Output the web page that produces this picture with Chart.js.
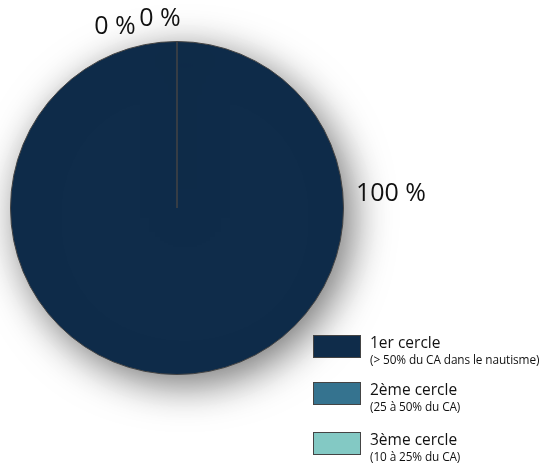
<!DOCTYPE html>
<html>
<head>
<meta charset="utf-8">
<script src="https://cdn.jsdelivr.net/npm/chart.js@4"></script>
<style>
  body { margin: 0; background: #fff; font-family: "Open Sans", sans-serif; }
  #wrap { position: relative; width: 548px; height: 467px; overflow: hidden; }
  .leg { position: absolute; left: 313px; }
  .leg .box { position: absolute; left: 0; top: 0; width: 46px; height: 21px; border: 1px solid #444; }
  .leg .t1 { position: absolute; left: 57px; top: -4px; font-size: 15.5px; color: #111; white-space: nowrap; }
  .leg .t2 { position: absolute; left: 57px; top: 16px; font-size: 11.8px; color: #111; white-space: nowrap; letter-spacing: -0.1px; }
</style>
</head>
<body>
<div id="wrap">
  <canvas id="pieChart" width="548" height="467"></canvas>
  <div id="legend"></div>
</div>
<script>
// données
var categories = ["1er cercle", "2ème cercle", "3ème cercle"];
var subLabels = ["(> 50% du CA dans le nautisme)", "(25 à 50% du CA)", "(10 à 25% du CA)"];
var values = [100, 0, 0];
var pctLabels = ["100 %", "0 %", "0 %"];
var colors = ["#0f2c4a", "#35738f", "#83c9c4"];

// légende HTML
var legendTops = [335, 382, 432];
var legend = document.getElementById("legend");
categories.forEach(function (c, i) {
  var d = document.createElement("div");
  d.className = "leg";
  d.style.top = legendTops[i] + "px";
  d.innerHTML = '<div class="box" style="background:' + colors[i] + '"></div>' +
    '<div class="t1">' + c + '</div><div class="t2">' + subLabels[i] + '</div>';
  legend.appendChild(d);
});

// ombre sous le camembert
var shadowPlugin = {
  id: "shadow",
  beforeDatasetsDraw: function (chart) {
    var ctx = chart.ctx;
    ctx.save();
    ctx.shadowColor = "rgba(0,0,0,0.55)";
    ctx.shadowBlur = 40;
    ctx.shadowOffsetX = 8;
    ctx.shadowOffsetY = 10;
  },
  afterDatasetsDraw: function (chart) {
    chart.ctx.restore();
  }
};

// étiquettes en %
var labelOffsets = [[214, -14], [-62, -181], [-17, -189]];
var pctPlugin = {
  id: "pct",
  afterDraw: function (chart) {
    var ctx = chart.ctx;
    var arc = chart.getDatasetMeta(0).data[0];
    ctx.save();
    ctx.fillStyle = "#111";
    ctx.font = "25px 'Open Sans'";
    ctx.textAlign = "center";
    ctx.textBaseline = "middle";
    pctLabels.forEach(function (t, i) {
      ctx.fillText(t, arc.x + labelOffsets[i][0], arc.y + labelOffsets[i][1]);
    });
    ctx.restore();
  }
};

var ctx = document.getElementById("pieChart").getContext("2d");
var pieChart = new Chart(ctx, {
  type: "pie",
  data: {
    labels: categories,
    datasets: [{
      data: values,
      backgroundColor: colors,
      borderColor: "#444",
      borderWidth: 1
    }]
  },
  options: {
    responsive: false,
    animation: false,
    layout: { padding: { left: 10, right: 204, top: 41, bottom: 92 } },
    plugins: {
      legend: { display: false },
      tooltip: { enabled: false }
    }
  },
  plugins: [shadowPlugin, pctPlugin]
});
</script>
</body>
</html>
